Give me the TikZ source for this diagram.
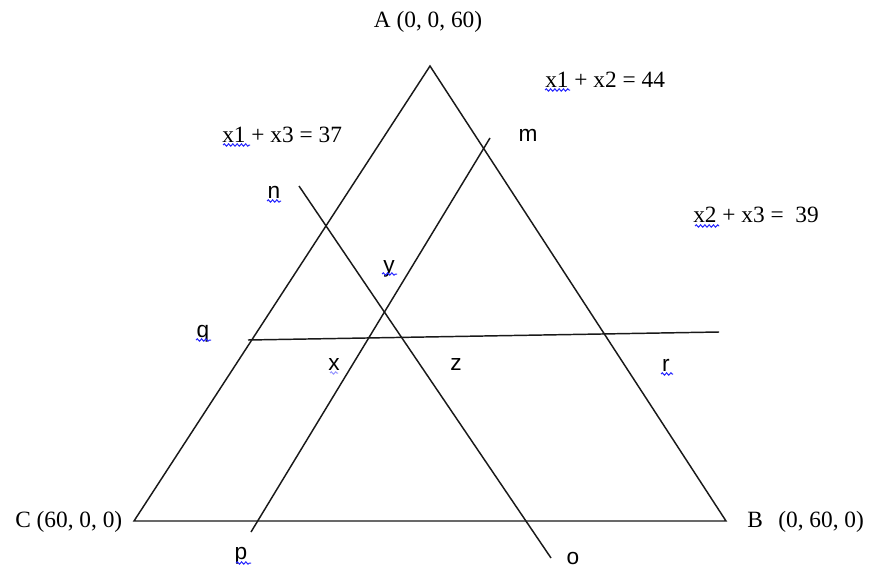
\documentclass[tikz,border=0pt]{standalone}
\usepackage{fontspec}
\setmainfont{Liberation Serif}
\newfontfamily\arialf{Liberation Sans}
\usetikzlibrary{decorations.pathmorphing}
\begin{document}
\begin{tikzpicture}[x=0.75pt,y=-0.75pt,
  edge/.style={line width=1.1pt, black!90},
  lbl/.style={inner sep=0, anchor=base, font=\fontsize{17.5}{20}\selectfont},
  lblw/.style={lbl, anchor=base west},
  pt/.style={inner sep=0, anchor=base, font=\arialf\fontsize{17}{20}\selectfont},
  wavy/.style={draw=blue!85, line width=0.75pt, decorate, decoration={snake, amplitude=0.9pt, segment length=3.2pt}}]
\fill[white] (0,0) rectangle (870,567);
\useasboundingbox (0,0) rectangle (870,567);
% triangle vertices
\coordinate (A) at (430,66);
\coordinate (B) at (726,521);
\coordinate (C) at (134,521);
% line ends
\coordinate (mEnd) at (490,138);
\coordinate (pEnd) at (251,532);
\coordinate (nEnd) at (299,186);
\coordinate (oEnd) at (551,558);
\coordinate (qEnd) at (248,340);
\coordinate (rEnd) at (719,332);
\draw[edge] (A) -- (B) -- (C) -- cycle;
\draw[edge] (mEnd) -- (pEnd);
\draw[edge] (nEnd) -- (oEnd);
\draw[edge] (qEnd) -- (rEnd);
% labels
\node[lbl] (la) at (428,28) {A (0, 0, 60)};
\node[lbl, anchor=base west] (lc) at (15,527) {C (60, 0, 0)};
\node[lbl, anchor=base west] (lb) at (747,527) {B\ \ \,(0, 60, 0)};
\node[lblw] (e1) at (545,87) {x1 + x2 = 44};
\node[lblw] (e2) at (222,142) {x1 + x3 = 37};
\node[lblw] (e3) at (693,222) {x2 + x3 =\ \ 39};
\node[pt] (lm) at (528,141) {m};
\node[pt] (ln) at (274,198) {n};
\node[pt] (ly) at (389,272) {y};
\node[pt] (lq) at (203,337) {q};
\node[pt] (lx) at (334,370) {x};
\node[pt] (lz) at (456,370) {z};
\node[pt] (lr) at (666,371) {r};
\node[pt] (lp) at (241,559) {p};
\node[pt] (lo) at (573,564) {o};
% spell-check underlines
\draw[wavy] (545,90) -- (570,90);
\draw[wavy] (223,145) -- (250,145);
\draw[wavy] (695,226) -- (719,226);
\draw[wavy] (267,201) -- (281,201);
\draw[wavy] (382,274) -- (397,274);
\draw[wavy] (196,340) -- (211,340);
\draw[wavy, draw=blue!40] (330,373) -- (338,373);
\draw[wavy] (661,374) -- (673,374);
\draw[wavy] (236,563) -- (251,563);
\end{tikzpicture}
\end{document}
